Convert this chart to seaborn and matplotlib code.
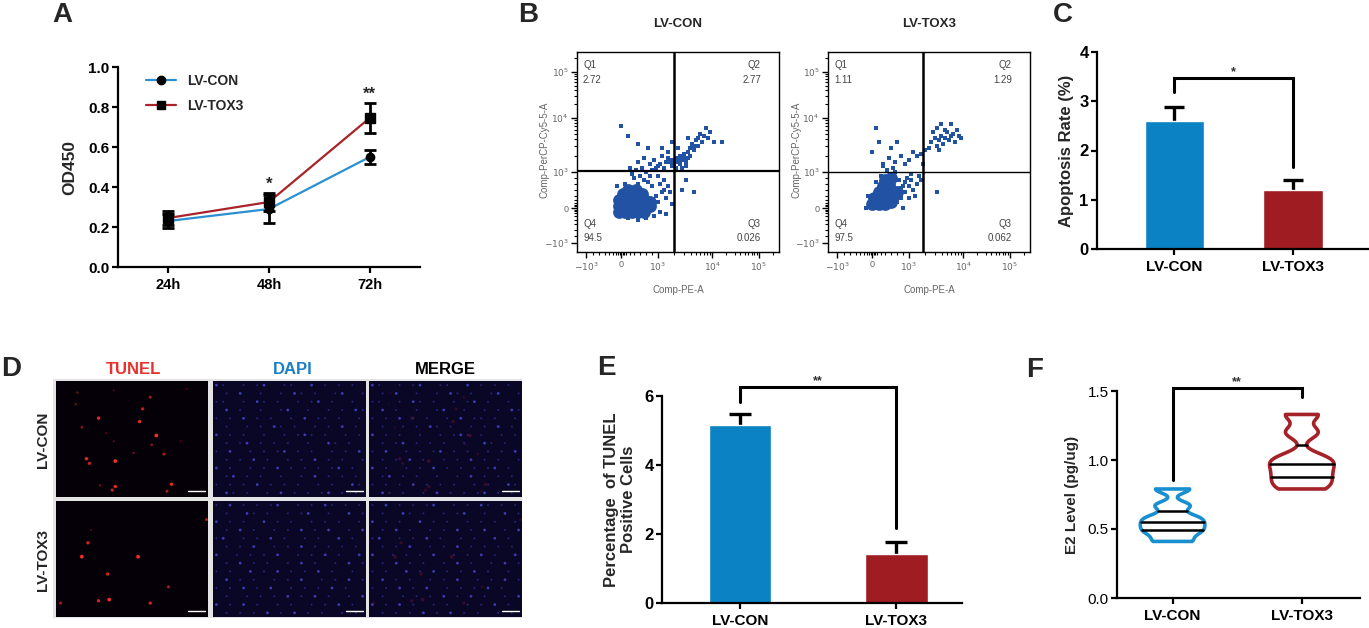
import numpy as np
import pandas as pd
import matplotlib
matplotlib.use("Agg")
import matplotlib.pyplot as plt
import seaborn as sns
from matplotlib.lines import Line2D

# ==========================================
# DATA
# ==========================================
groups = ["LV-CON", "LV-TOX3"]

# A: OD450 growth curve
time_points = ["24h", "48h", "72h"]
od_con = [0.23, 0.29, 0.55]
od_con_sd = [0.035, 0.07, 0.035]
od_tox3 = [0.245, 0.325, 0.745]
od_tox3_sd = [0.035, 0.045, 0.075]
od_stars = ["", "*", "**"]

# B: flow cytometry quadrants (Q1, Q2, Q4, Q3)
quad_con = ["2.72", "2.77", "94.5", "0.026"]
quad_tox3 = ["1.11", "1.29", "97.5", "0.062"]
flow_ticks = [r"$-10^3$", "0", r"$10^3$", r"$10^4$", r"$10^5$"]
flow_tick_pos = [4.5, 22, 40, 67, 90]

# dense core of events (channel units 0-100)
core_con_x = [21, 24, 27, 30, 33, 21, 24, 27, 30, 33, 36, 21, 24, 27, 30, 33, 36, 23, 26, 29, 32, 25, 29]
core_con_y = [20, 20, 20, 20, 20, 23, 23, 23, 23, 23, 23, 26, 26, 26, 26, 26, 25, 29, 29, 29, 29, 31, 31]
# scattered events
ev_con_x = [38, 40, 39, 41, 42, 37, 35, 33, 30, 44, 45, 43, 40, 36, 31, 28, 46, 47, 38, 34, 30, 25, 44, 20, 24,
            26, 30, 33, 36, 38, 40, 42, 44, 45, 47, 48, 49, 50, 51, 52, 53, 54, 55, 56, 57, 58, 59, 60, 62, 63,
            65, 66, 64, 61, 55, 50, 47, 42, 35, 30, 25, 22, 68, 72, 54, 49, 52, 52, 58, 54, 46, 49, 52, 55, 51,
            39, 41, 43, 45, 47, 50, 53, 56, 58, 60, 43, 41, 37, 34, 32, 29, 27]
ev_con_y = [22, 25, 28, 20, 30, 33, 35, 36, 34, 27, 33, 36, 38, 38, 38, 37, 30, 24, 18, 17, 16, 17, 19, 33, 34,
            42, 45, 47, 44, 46, 43, 48, 45, 50, 46, 44, 47, 45, 48, 46, 49, 45, 50, 52, 54, 51, 56, 53, 55, 58,
            57, 60, 62, 59, 57, 52, 55, 52, 52, 54, 58, 63, 55, 55, 43, 42, 42, 31, 30, 36, 45, 46, 46, 47, 44,
            42, 44, 42, 47, 43, 47, 47, 48, 53, 57, 31, 34, 41, 40, 42, 41, 39]
core_tox3_x = [22, 25, 28, 31, 23, 26, 29, 32, 25, 28, 31, 34, 27, 30, 28, 31]
core_tox3_y = [24, 24, 24, 25, 27, 27, 27, 28, 30, 30, 31, 30, 33, 34, 36, 37]
ev_tox3_x = [34, 36, 37, 38, 35, 33, 26, 24, 20, 40, 42, 44, 39, 41, 45, 46, 43, 19, 37,
             27, 30, 33, 36, 38, 40, 42, 44, 46, 48, 47, 34, 31, 22, 25, 24, 27,
             51, 53, 54, 55, 56, 57, 58, 59, 60, 61, 62, 63, 64, 65, 66, 58, 56, 52, 54, 55, 50, 61, 54,
             36, 38, 40, 33, 35, 41, 29, 32]
ev_tox3_y = [25, 27, 33, 30, 36, 40, 38, 35, 28, 27, 31, 34, 37, 39, 38, 36, 28, 22, 22,
             43, 47, 45, 48, 44, 46, 50, 48, 49, 51, 44, 55, 52, 50, 55, 62, 44,
             55, 57, 53, 56, 58, 54, 57, 60, 56, 58, 59, 55, 61, 58, 57, 61, 64, 60, 62, 51, 52, 64, 30,
             32, 35, 33, 28, 30, 36, 41, 42]

# C: apoptosis rate
apoptosis = [2.6, 1.2]
apoptosis_sd = [0.29, 0.2]

# D: TUNEL / DAPI images (positions as fractions of the image, y from top)
tunel_con_x = [0.14, 0.38, 0.62, 0.13, 0.57, 0.28, 0.55, 0.17, 0.66, 0.33, 0.38, 0.63, 0.51, 0.71,
               0.20, 0.22, 0.39, 0.29, 0.39, 0.76, 0.37, 0.73, 0.82, 0.86]
tunel_con_y = [0.10, 0.08, 0.14, 0.20, 0.24, 0.32, 0.35, 0.40, 0.47, 0.45, 0.52, 0.55, 0.62, 0.63,
               0.67, 0.71, 0.69, 0.90, 0.91, 0.89, 0.94, 0.95, 0.52, 0.07]
tunel_con_i = [0.5, 0.4, 0.7, 0.5, 0.8, 0.9, 0.9, 0.6, 1.0, 0.4, 0.4, 0.6, 0.5, 0.7,
               0.9, 0.8, 1.0, 0.5, 0.9, 0.9, 0.8, 0.7, 0.4, 0.4]
tunel_tox3_x = [0.21, 0.17, 0.54, 0.34, 0.74, 0.28, 0.35, 0.62, 0.03, 0.99, 0.23]
tunel_tox3_y = [0.36, 0.48, 0.48, 0.63, 0.74, 0.86, 0.85, 0.88, 0.88, 0.16, 0.25]
tunel_tox3_i = [0.6, 0.7, 0.7, 0.6, 0.5, 0.6, 0.7, 0.6, 0.5, 0.5, 0.3]

dapi_con = [
    "o.  . .o  ..  o . . . ",
    " . o  .  . o. .  .o  .",
    "..  . o. .  . .o .  . ",
    " o .  .  .o  .  . . o.",
    ". . o . .  . o .. .  .",
    " .  . . o. .  . . o . ",
    "o . .  .  . .o. .  . .",
    " . .o . . .  .  o. .  ",
    ". o  . . .o . .  . . o",
    " . . o .  . . o . .  .",
    "o .  . . o . . . .o . ",
    " .o . .  .  . o . . . ",
    ". . . o . . .  . .  o.",
    " o. .  . o . . .o . . ",
]
dapi_tox3 = [
    ". o . . .o  . . o. . .",
    " .  o. .  . .o  .  o .",
    "o . .  o . .  . . .  .",
    " . o .  . . o . o  . o",
    ".o  . . o .  . .  o . ",
    " . . o  . . o . . . . ",
    "o  . . . o  . . o .  o",
    " . o . .  . o .  . o .",
    ". .  o . o . . o .  . ",
    " o . .  . . o  . . o .",
    ". . o . o  . . . o .  ",
    " .  . . . o . o .  . o",
    "o . o .  . .  . . o . ",
    " . . . o . o . .  . . ",
]

# E: TUNEL positive cells
tunel_pct = [5.15, 1.42]
tunel_sd = [0.32, 0.36]

# F: E2 level
e2_con = [0.41, 0.47, 0.51, 0.55, 0.59, 0.67, 0.79]
e2_tox3 = [0.79, 0.85, 0.91, 0.97, 1.02, 1.20, 1.33]

# ==========================================
# STYLE
# ==========================================
sns.set_theme(style="ticks")
plt.rcParams['font.family'] = ['Liberation Sans', 'DejaVu Sans']
plt.rcParams['axes.linewidth'] = 1.6
plt.rcParams['xtick.major.width'] = 1.6
plt.rcParams['ytick.major.width'] = 1.6
plt.rcParams['xtick.major.size'] = 4
plt.rcParams['ytick.major.size'] = 4
plt.rcParams['axes.edgecolor'] = 'black'

BLUE = "#0B82C4"
RED = "#9E1C22"
LBLUE = "#2B90D0"
LRED = "#A8232A"
FLOW = "#2152A3"

W, H = 1369, 628
fig = plt.figure(figsize=(W / 100, H / 100), dpi=100)
fig.patch.set_facecolor('white')


def add_ax(l, t, r, b):
    return fig.add_axes([l / W, 1 - b / H, (r - l) / W, (b - t) / H])


def ftext(x, y, s, **kw):
    fig.text(x / W, 1 - y / H, s, **kw)


def style_axis(ax, ysize=11, xsize=11, yweight='bold'):
    sns.despine(ax=ax)
    ax.tick_params(axis='x', labelsize=xsize, colors='black', pad=4)
    ax.tick_params(axis='y', labelsize=ysize, colors='black', pad=2)
    for lab in ax.get_xticklabels():
        lab.set_fontweight('bold')
    for lab in ax.get_yticklabels():
        lab.set_fontweight(yweight)
    ax.set_facecolor('white')
    ax.grid(False)


def bracket(ax, y0, y1, ytop, label, fs):
    ax.plot([0, 0, 1, 1], [y0, ytop, ytop, y1], color='black', lw=2.2,
            solid_joinstyle='miter', clip_on=False)
    ax.text(0.5, ytop, label, ha='center', va='bottom', fontsize=fs,
            fontweight='bold', color='#333333')


# panel letters
for letter, (x, y) in {"A": (62, 15), "B": (528, 15), "C": (1063, 15),
                       "D": (11, 369), "E": (606, 368), "F": (1035, 370)}.items():
    ftext(x, y, letter, fontsize=20, fontweight='bold', ha='center', va='center')

# ==========================================
# A: growth curve
# ==========================================
ax = add_ax(118, 67, 420, 267)
pos = np.arange(len(time_points))
df_a = pd.DataFrame({
    "pos": np.concatenate([pos, pos]),
    "od": od_con + od_tox3,
    "group": ["LV-CON"] * 3 + ["LV-TOX3"] * 3,
})
sns.lineplot(data=df_a, x="pos", y="od", hue="group", palette=[LBLUE, LRED],
             linewidth=1.6, legend=False, ax=ax, zorder=2)
ax.errorbar(pos, od_con, yerr=od_con_sd, fmt='o', color='black', ms=6,
            capsize=4, elinewidth=2, capthick=2, zorder=3)
ax.errorbar(pos, od_tox3, yerr=od_tox3_sd, fmt='s', color='black', ms=7,
            capsize=4, elinewidth=2, capthick=2, zorder=3)
tops = np.maximum(np.array(od_con) + od_con_sd, np.array(od_tox3) + od_tox3_sd)
for p, t, s in zip(pos, tops, od_stars):
    ax.text(p, t + 0.005, s, ha='center', va='bottom', fontsize=12, fontweight='bold')
ax.set_xlim(-0.5, 2.5)
ax.set_ylim(0, 1.0)
ax.set_xticks(pos, time_points)
ax.set_yticks(np.arange(0, 1.01, 0.2), [f"{v:.1f}" for v in np.arange(0, 1.01, 0.2)])
ax.set_xlabel("")
ax.set_ylabel("OD450", fontsize=12.5, fontweight='bold', labelpad=8)
style_axis(ax, ysize=11, xsize=10.5)
handles = [Line2D([0], [0], color=LBLUE, lw=1.6, marker='o', mfc='black', mec='black', ms=6),
           Line2D([0], [0], color=LRED, lw=1.6, marker='s', mfc='black', mec='black', ms=6)]
leg = ax.legend(handles, groups, loc='upper left', bbox_to_anchor=(0.05, 1.03), frameon=False,
                fontsize=10, handlelength=2.2, labelspacing=0.8)
for t in leg.get_texts():
    t.set_fontweight('bold')

# ==========================================
# B: flow cytometry
# ==========================================
minor = []
for a, b in [(40, 67), (67, 90), (90, 113)]:
    minor += [a + (b - a) * np.log10(k) for k in range(2, 10)]
minor += [8, 11, 14, 16, 18, 19.5, 20.5, 21.2, 22.8, 23.5, 24.5, 26, 28, 31, 34, 37]
minor = [m for m in minor if m < 100]

flow_sets = [
    ("LV-CON", quad_con, core_con_x, core_con_y, ev_con_x, ev_con_y, (577, 52, 779, 252), 48, 40.5, "Comp-PE-A", 545),
    ("LV-TOX3", quad_tox3, core_tox3_x, core_tox3_y, ev_tox3_x, ev_tox3_y, (828, 52, 1030, 252), 47, 40, "Comp-PE-A", 797),
]
for title, quad, cx, cy, ex, ey, box, qx, qy, xlab, ylab_x in flow_sets:
    ax = add_ax(*box)
    ax.set_facecolor('white')
    sns.scatterplot(x=ex, y=ey, color=FLOW, s=6, marker='s', linewidth=0, ax=ax)
    sns.scatterplot(x=cx, y=cy, color=FLOW, s=85, marker='o', linewidth=0, ax=ax)
    ax.axvline(qx, color='black', lw=1.8)
    ax.axhline(qy, color='black', lw=1.6 if title == "LV-CON" else 1.0)
    ax.set_xlim(0, 100)
    ax.set_ylim(0, 100)
    for sp in ax.spines.values():
        sp.set_linewidth(1.0)
        sp.set_color('black')
    ax.set_xticks(flow_tick_pos, flow_ticks)
    ax.set_yticks(flow_tick_pos, flow_ticks)
    ax.set_xticks(minor, minor=True)
    ax.set_yticks(minor, minor=True)
    ax.tick_params(which='major', length=4, width=1.0, labelsize=6.5, colors='black',
                   labelcolor='#666666', pad=2)
    ax.tick_params(which='minor', length=2.5, width=0.8, colors='black')
    ax.set_xlabel("")
    ax.set_ylabel("")
    ax.grid(False)
    gray = '#444444'
    ax.text(0.03, 0.935, "Q1", transform=ax.transAxes, fontsize=7, color=gray, va='center')
    ax.text(0.03, 0.86, quad[0], transform=ax.transAxes, fontsize=7, color=gray, va='center')
    ax.text(0.91, 0.935, "Q2", transform=ax.transAxes, fontsize=7, color=gray, va='center', ha='right')
    ax.text(0.91, 0.86, quad[1], transform=ax.transAxes, fontsize=7, color=gray, va='center', ha='right')
    ax.text(0.03, 0.14, "Q4", transform=ax.transAxes, fontsize=7, color=gray, va='center')
    ax.text(0.03, 0.07, quad[2], transform=ax.transAxes, fontsize=7, color=gray, va='center')
    ax.text(0.91, 0.14, "Q3", transform=ax.transAxes, fontsize=7, color=gray, va='center', ha='right')
    ax.text(0.91, 0.07, quad[3], transform=ax.transAxes, fontsize=7, color=gray, va='center', ha='right')
    cxp = (box[0] + box[2]) / 2
    ftext(cxp, 24, title, fontsize=9.5, fontweight='bold', ha='center', va='center')
    ftext(cxp, 290, xlab, fontsize=7, color='#666666', ha='center', va='center')
    ftext(ylab_x, 150, "Comp-PerCP-Cy5-5-A", fontsize=7, color='#666666', ha='center',
          va='center', rotation=90)

# ==========================================
# C: apoptosis bar chart
# ==========================================
ax = add_ax(1097, 52, 1368, 249)
sns.barplot(x=groups, y=apoptosis, hue=groups, palette=[BLUE, RED], width=0.5,
            saturation=1, errorbar=None, legend=False, ax=ax, zorder=2)
ax.errorbar([0, 1], apoptosis, yerr=apoptosis_sd, fmt='none', ecolor='black',
            elinewidth=2.4, capsize=7, capthick=2.4, zorder=1)
ax.set_xlim(-0.65, 1.63)
ax.set_ylim(0, 4)
ax.set_yticks([0, 1, 2, 3, 4])
ax.set_ylabel("Apoptosis Rate (%)", fontsize=12, fontweight='bold', labelpad=4)
style_axis(ax, ysize=12, xsize=11)
c_top = np.array(apoptosis) + apoptosis_sd
bracket(ax, c_top[0] + 0.3, c_top[1] + 0.26, max(c_top) + 0.58, "*", 9)

# ==========================================
# D: TUNEL / DAPI images
# ==========================================
bg = add_ax(53, 379, 522, 618)
bg.set_facecolor('#e4e4e4')
bg.set_xticks([])
bg.set_yticks([])
for sp in bg.spines.values():
    sp.set_visible(False)


def grid_frame(rows):
    nr = len(rows)
    nc = max(len(r) for r in rows)
    recs = []
    for i, row in enumerate(rows):
        for j, ch in enumerate(row):
            if ch != ' ':
                recs.append(((j + 0.5 + 0.5 * (i % 2)) / (nc + 0.5), (i + 0.5) / nr, ch))
    return pd.DataFrame(recs, columns=["x", "y", "kind"])


cols = [(56, 208), (213, 366), (369, 522)]
rows = [(381, 497), (501, 617)]
tunel_sets = [(tunel_con_x, tunel_con_y, tunel_con_i), (tunel_tox3_x, tunel_tox3_y, tunel_tox3_i)]
dapi_sets = [dapi_con, dapi_tox3]
for r, (t, b) in enumerate(rows):
    tx, ty, ti = tunel_sets[r]
    dframe = grid_frame(dapi_sets[r])
    for c, (l, rr) in enumerate(cols):
        ax = add_ax(l, t, rr, b)
        ax.set_facecolor('#050008' if c == 0 else '#0a0626')
        if c > 0:
            sns.scatterplot(data=dframe, x="x", y="y", hue="kind", size="kind",
                            palette={'.': '#25257a', 'o': '#3c3cb4'},
                            sizes={'.': 2, 'o': 4}, linewidth=0, legend=False, ax=ax)
        if c != 1:
            alpha = 1.0 if c == 0 else 0.2
            df_t = pd.DataFrame({"x": tx, "y": ty, "i": ti})
            sns.scatterplot(data=df_t, x="x", y="y", hue="i", size="i",
                            palette=sns.blend_palette(["#5a0a14", "#ff2a2a"], as_cmap=True),
                            sizes=(2, 7), linewidth=0, legend=False, alpha=alpha, ax=ax)
        ax.plot([0.87, 0.98], [0.95, 0.95], color='white', lw=1.0)
        ax.set_xlim(0, 1)
        ax.set_ylim(1, 0)
        ax.set_xticks([])
        ax.set_yticks([])
        ax.set_xlabel("")
        ax.set_ylabel("")
        for sp in ax.spines.values():
            sp.set_visible(False)

ftext(134, 370, "TUNEL", fontsize=12, fontweight='bold', color='#E8302E', ha='center', va='center')
ftext(293, 370, "DAPI", fontsize=12, fontweight='bold', color='#1A7FC4', ha='center', va='center')
ftext(445, 370, "MERGE", fontsize=12, fontweight='bold', color='black', ha='center', va='center')
ftext(43, 440, "LV-CON", fontsize=11, fontweight='bold', ha='center', va='center', rotation=90)
ftext(43, 560, "LV-TOX3", fontsize=11, fontweight='bold', ha='center', va='center', rotation=90)

# ==========================================
# E: TUNEL positive bar chart
# ==========================================
ax = add_ax(662, 396, 962, 603)
sns.barplot(x=groups, y=tunel_pct, hue=groups, palette=[BLUE, RED], width=0.4,
            saturation=1, errorbar=None, legend=False, ax=ax, zorder=2)
ax.errorbar([0, 1], tunel_pct, yerr=tunel_sd, fmt='none', ecolor='black',
            elinewidth=2.4, capsize=8, capthick=2.4, zorder=1)
ax.set_xlim(-0.5, 1.42)
ax.set_ylim(0, 6)
ax.set_yticks([0, 2, 4, 6])
ax.set_ylabel("Percentage  of TUNEL\nPositive Cells", fontsize=12, fontweight='bold', labelpad=6)
style_axis(ax, ysize=12, xsize=11)
e_top = np.array(tunel_pct) + tunel_sd
bracket(ax, e_top[0] + 0.36, e_top[1] + 0.39, max(e_top) + 0.79, "**", 9)

# ==========================================
# F: E2 violin
# ==========================================
ax = add_ax(1117, 391, 1360, 598)
df_f = pd.DataFrame({"group": ["LV-CON"] * len(e2_con) + ["LV-TOX3"] * len(e2_tox3),
                     "e2": e2_con + e2_tox3})
sns.violinplot(data=df_f, x="group", y="e2", hue="group", palette=["#1A8FD0", "#A52228"],
               fill=False, inner="quart", cut=0, density_norm="width", width=0.5,
               bw_adjust=0.35, linewidth=2.6, legend=False, ax=ax)
for ln in ax.lines:
    if len(ln.get_xdata()) == 2:
        ln.set_linestyle('-')
        ln.set_color('black')
        ln.set_linewidth(1.8)
ax.set_xlim(-0.43, 1.45)
ax.set_ylim(0, 1.5)
ax.set_yticks([0, 0.5, 1.0, 1.5], ["0.0", "0.5", "1.0", "1.5"])
ax.set_xlabel("")
ax.set_ylabel("E2 Level (pg/ug)", fontsize=11, fontweight='bold', labelpad=6)
style_axis(ax, ysize=11, xsize=11, yweight='normal')
bracket(ax, max(e2_con) + 0.065, max(e2_tox3) + 0.13, 1.52, "**", 9)

plt.savefig("out.png", dpi=100, facecolor='white')
